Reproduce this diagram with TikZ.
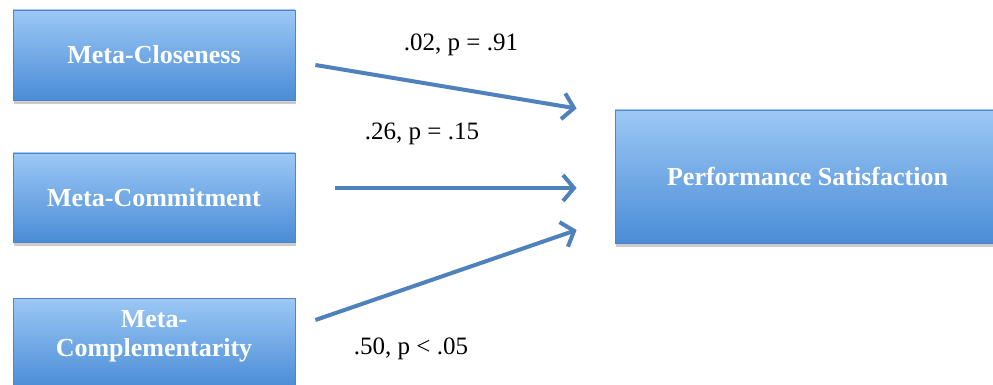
\documentclass[tikz,border=0pt]{standalone}
\usepackage{fontspec}
\setmainfont{Liberation Serif}
\usetikzlibrary{arrows.meta,shadows,calc}

\definecolor{boxtop}{RGB}{156,200,245}
\definecolor{boxbottom}{RGB}{74,140,214}
\definecolor{boxline}{RGB}{86,132,194}
\definecolor{arrowblue}{RGB}{79,129,189}

\begin{document}
\begin{tikzpicture}[
    x=1pt, y=-1pt,
    box/.style={draw=boxline, line width=0.8pt, rectangle, top color=boxtop, bottom color=boxbottom,
        text=white, font=\fontsize{26}{29}\selectfont\bfseries, align=center, inner sep=0pt,
        drop shadow={shadow xshift=1pt, shadow yshift=-4pt, fill=black!40, opacity=0.5}},
    link/.style={draw=arrowblue, line width=4pt, -{Straight Barb[length=11pt,width=26pt]}},
    coef/.style={font=\fontsize{25}{27}\selectfont}
]

\clip (0,0) rectangle (993,385);
\fill[white] (0,0) rectangle (993,385);

% predictors
\node[box, minimum width=282pt, minimum height=90pt] (closeness) at (154,55) {Meta-Closeness};
\node[box, minimum width=282pt, minimum height=89pt] (commitment) at (154,197.5) {Meta-Commitment};
\node[box, minimum width=282pt, minimum height=90pt, text depth=20pt] (complement) at (154,343) {Meta-\\Complementarity};

% outcome
\node[box, minimum width=385pt, minimum height=133pt] (satisfaction) at (807.5,176.5) {Performance Satisfaction};

\draw[link] ($(closeness.east)+(20,10)$) -- ($(satisfaction.west)+(-38,-68)$);
\draw[link] ($(commitment.east)+(40,-9.5)$) -- ($(satisfaction.west)+(-38,11.5)$);
\draw[link] ($(complement.east)+(20,-23)$) -- ($(satisfaction.west)+(-38,53.5)$);

\node[coef] (c1) at (461,45) {.02, p = .91};
\node[coef] (c2) at (422,134) {.26, p = .15};
\node[coef] (c3) at (411,349) {.50, p < .05};

\end{tikzpicture}
\end{document}
